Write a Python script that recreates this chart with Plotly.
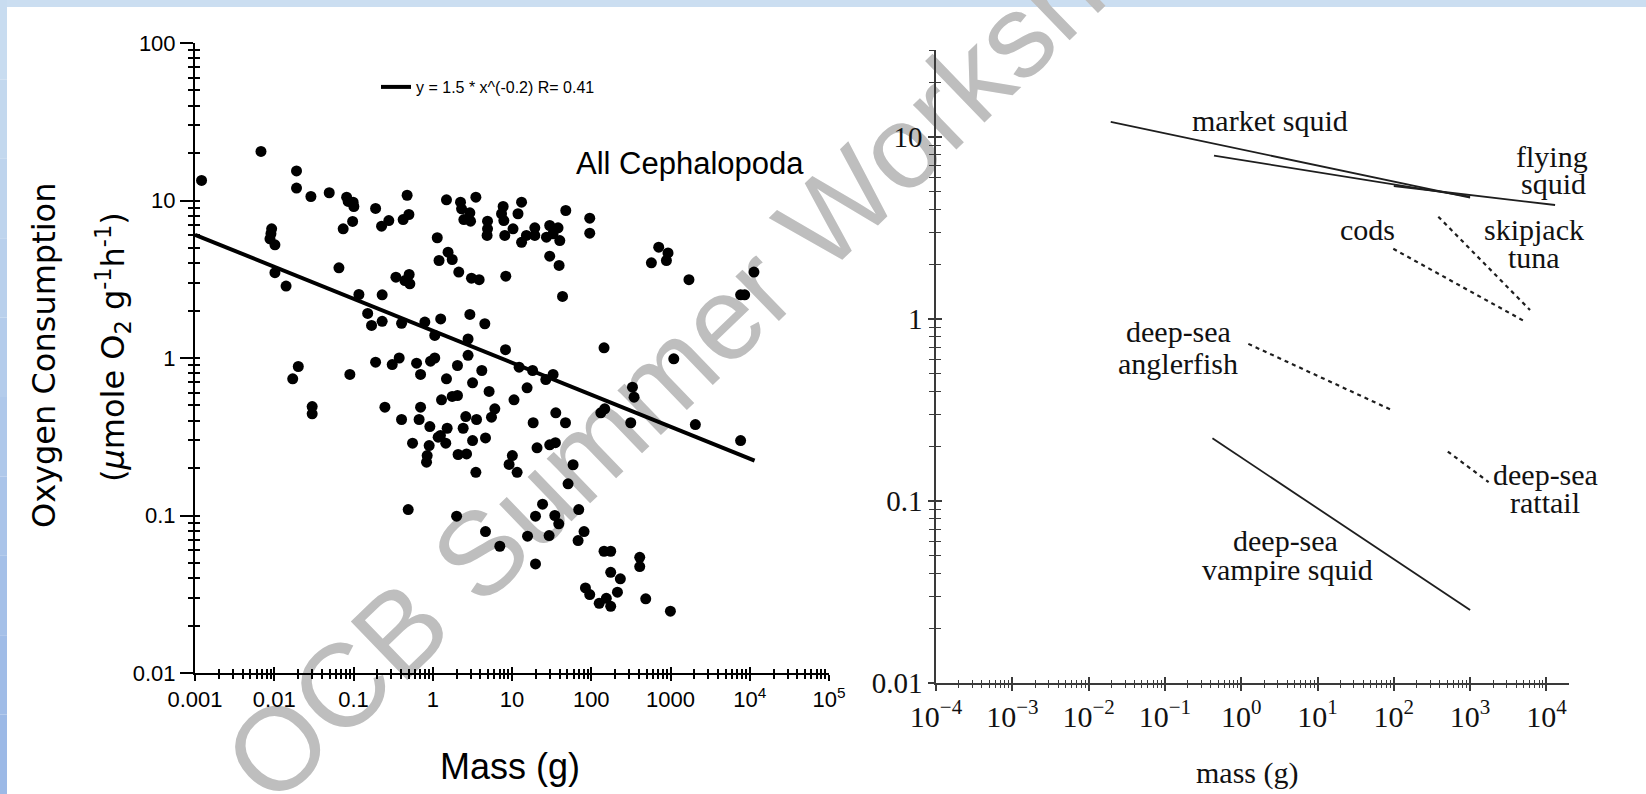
import math
import plotly.graph_objects as go

W, H = 1646, 794

# ---------------- Left panel: all Cephalopoda ----------------
mass_g = [
    0.00121, 0.0068, 0.0191, 0.0191, 0.029, 0.0494, 0.0819, 0.0857, 0.099, 0.101,
    0.0975, 0.0741, 0.190, 0.279, 0.226, 0.475, 0.500, 0.423, 1.49, 2.24,
    2.31, 2.94, 2.47, 3.0, 3.5, 4.91, 4.91, 4.85, 0.00927, 0.00908,
    0.00883, 0.0102, 0.0102, 0.0141, 0.0655, 0.117, 0.230, 0.343, 0.504, 0.445,
    0.514, 1.14, 1.56, 1.20, 1.76, 2.13, 3.08, 3.85,
    7.73, 7.38, 7.89, 13.2, 11.9, 10.3, 8.11, 13.2, 15.2, 19.4,
    19.4, 29.9, 38.1, 27.2, 33.0, 40.1, 47.7, 95.7, 95.7, 29.9,
    39.3, 8.35, 43.4, 710, 930, 574, 888, 1710, 11300, 7670, 8630,
    0.151, 0.169, 0.230, 0.404, 0.795, 1.06, 1.26, 2.94, 4.54, 2.79,
    2.79, 0.0201, 0.0171, 0.090, 0.0301, 0.0301, 0.190, 0.308, 0.377, 0.625,
    0.702, 0.938, 1.06, 2.05, 1.49, 3.18, 4.16, 5.14, 1.29, 1.76,
    2.05, 0.249, 0.702, 0.404, 0.673, 0.919, 1.52, 1.25, 1.46, 2.42,
    2.61, 3.57, 3.18, 4.63, 6.07, 5.51, 0.556, 0.901, 0.850, 0.835,
    2.09, 2.67, 3.50, 1.17,
    8.28, 12.3, 18.2, 26.7, 33.0, 145, 1100, 331, 347, 15.5,
    10.6, 18.5, 35.7, 47.3, 132, 148, 315, 2060, 7670, 20.7,
    29.9, 35.3, 10.1, 9.19, 11.6, 59.0, 51.0,
    0.490, 2.0, 4.63, 7.02,
    24.3, 19.8, 34.7, 38.9, 69.5, 81.1, 68.2, 15.7, 29.4, 19.8,
    145, 176, 409, 409, 176, 233, 84.5, 95.7, 214, 155,
    126, 176, 487, 997,
]
o2_rate = [
    13.4, 20.5, 15.4, 12.0, 10.6, 11.2, 10.5, 9.86, 9.76, 9.16,
    7.36, 6.61, 8.90, 7.46, 6.87, 10.8, 8.15, 7.57, 10.1, 9.76,
    8.86, 8.35, 7.57, 7.39, 10.5, 7.39, 6.61, 6.0, 6.61, 6.15,
    5.71, 5.23, 3.48, 2.86, 3.74, 2.53, 2.52, 3.26, 3.39, 3.10,
    2.96, 5.80, 4.70, 4.16, 4.22, 3.51, 3.21, 3.14,
    9.16, 8.24, 7.46, 9.76, 8.24, 6.61, 6.0, 5.43, 6.0, 6.71,
    6.0, 6.94, 6.71, 5.85, 6.15, 5.57, 8.64, 7.72, 6.20, 4.43,
    3.87, 3.31, 2.46, 5.05, 4.65, 4.02, 4.16, 3.14, 3.51, 2.52, 2.52,
    1.92, 1.61, 1.71, 1.66, 1.69, 1.39, 1.77, 1.89, 1.65, 1.32,
    1.04, 0.883, 0.738, 0.786, 0.492, 0.442, 0.940, 0.909, 1.0, 0.927,
    0.786, 0.954, 1.0, 0.896, 0.738, 0.696, 0.833, 0.613, 0.543, 0.570,
    0.578, 0.487, 0.487, 0.407, 0.407, 0.367, 0.358, 0.322, 0.288, 0.358,
    0.425, 0.407, 0.299, 0.311, 0.476, 0.421, 0.288, 0.278, 0.240, 0.218,
    0.244, 0.246, 0.188, 0.314,
    1.13, 0.874, 0.833, 0.730, 0.786, 1.16, 0.988, 0.653, 0.564, 0.647,
    0.543, 0.388, 0.449, 0.388, 0.449, 0.476, 0.388, 0.378, 0.299, 0.269,
    0.281, 0.290, 0.240, 0.211, 0.188, 0.210, 0.159,
    0.109, 0.099, 0.079, 0.0638,
    0.118, 0.099, 0.100, 0.0886, 0.109, 0.079, 0.0693, 0.0739, 0.0746, 0.0493,
    0.0593, 0.0593, 0.0543, 0.0474, 0.0436, 0.0396, 0.0347, 0.0315, 0.0326, 0.0298,
    0.0277, 0.0265, 0.0296, 0.0247,
]
fit_mass = [0.001, 11500]
fit_rate = [6.06, 0.223]
fit_label = "y = 1.5 * x^(-0.2) R= 0.41"

left_x_tickvals = [1e-3, 1e-2, 1e-1, 1, 10, 100, 1000, 1e4, 1e5]
left_x_ticktext = ["0.001", "0.01", "0.1", "1", "10", "100", "1000", "10<sup>4</sup>", "10<sup>5</sup>"]
left_y_tickvals = [0.01, 0.1, 1, 10, 100]
left_y_ticktext = ["0.01", "0.1", "1", "10", "100"]

# ---------------- Right panel: species scaling lines ----------------
market_squid_mass = [0.0195, 1000]
market_squid_rate = [12.1, 4.64]
squid2_mass = [0.44, 1000]
squid2_rate = [7.9, 4.7]
flying_squid_mass = [100, 13000]
flying_squid_rate = [5.38, 4.23]
cods_mass = [98.5, 4980]
cods_rate = [2.43, 0.98]
skipjack_mass = [383, 6100]
skipjack_rate = [3.65, 1.12]
anglerfish_mass = [1.24, 98.5]
anglerfish_rate = [0.73, 0.313]
vampire_mass = [0.42, 1000]
vampire_rate = [0.221, 0.0252]
rattail_mass = [510, 1750]
rattail_rate = [0.187, 0.127]

right_x_tickvals = [1e-4, 1e-3, 1e-2, 1e-1, 1, 10, 100, 1000, 1e4]
right_x_ticktext = ["10<sup>\u22124</sup>", "10<sup>\u22123</sup>", "10<sup>\u22122</sup>",
                    "10<sup>\u22121</sup>", "10<sup>0</sup>", "10<sup>1</sup>",
                    "10<sup>2</sup>", "10<sup>3</sup>", "10<sup>4</sup>"]
right_y_tickvals = [0.01, 0.1, 1, 10]
right_y_ticktext = ["0.01", "0.1", "1", "10"]


def px(x):
    return x / W


def py(y):
    return 1 - y / H


def minor_vals(d0, d1):
    return [m * 10.0 ** d for d in range(d0, d1 + 1) for m in range(2, 10)]


SANS = "Liberation Sans, Arial, sans-serif"
SERIF = "Liberation Serif, Times New Roman, serif"
WIDE = "DejaVu Sans, Verdana, sans-serif"

fig = go.Figure()

# left panel traces
fig.add_trace(go.Scatter(x=mass_g, y=o2_rate, mode="markers", xaxis="x", yaxis="y",
                         marker=dict(size=11, color="black"), showlegend=False))
fig.add_trace(go.Scatter(x=fit_mass, y=fit_rate, mode="lines", xaxis="x", yaxis="y",
                         line=dict(color="black", width=4), name=fit_label, showlegend=True))

# right panel traces
solid = dict(color="#1e1e1e", width=1.8)
dotted = dict(color="#1e1e1e", width=2.2, dash="4px,4px")
for xs, ys, ln in [
    (market_squid_mass, market_squid_rate, solid),
    (squid2_mass, squid2_rate, solid),
    (flying_squid_mass, flying_squid_rate, solid),
    (cods_mass, cods_rate, dotted),
    (skipjack_mass, skipjack_rate, dotted),
    (anglerfish_mass, anglerfish_rate, dotted),
    (vampire_mass, vampire_rate, solid),
    (rattail_mass, rattail_rate, dotted),
]:
    fig.add_trace(go.Scatter(x=xs, y=ys, mode="lines", xaxis="x2", yaxis="y2",
                             line=ln, showlegend=False, hoverinfo="skip"))

# empty traces to instantiate the overlay (inside-tick) axes
for xa, ya in [("x3", "y"), ("x", "y3"), ("x4", "y2"), ("x2", "y4")]:
    fig.add_trace(go.Scatter(x=[], y=[], xaxis=xa, yaxis=ya, showlegend=False, hoverinfo="skip"))

L_xdom = [px(195), px(829)]
L_ydom = [py(673), py(43)]
R_xdom = [px(936), px(936 + 8.3 * 76.3)]
R_ydom = [py(683), py(137 - math.log10(3) * 182)]
L_xr = [-3, 5]
L_yr = [-2, 2]
R_xr = [-4, 4.3]
R_yr = [-2, math.log10(30)]

base = dict(type="log", showgrid=False, zeroline=False, tickmode="array", automargin=False)

fig.update_layout(
    template="none",
    width=W, height=H, autosize=False, margin=dict(l=0, r=0, t=0, b=0, pad=0, autoexpand=False),
    paper_bgcolor="white", plot_bgcolor="rgba(0,0,0,0)",
    showlegend=True,
    legend=dict(x=px(376), y=py(87), xanchor="left", yanchor="middle",
                bgcolor="rgba(0,0,0,0)", font=dict(family=SANS, size=16, color="black")),
    xaxis=dict(**base, domain=L_xdom, range=L_xr, anchor="y",
               tickvals=left_x_tickvals, ticktext=left_x_ticktext,
               showline=True, linecolor="black", linewidth=2,
               ticks="outside", ticklen=6, tickwidth=2, tickcolor="black",
               tickfont=dict(family=SANS, size=22, color="black"),
               minor=dict(tickvals=minor_vals(-3, 4), ticks="outside", ticklen=4,
                          tickwidth=1.5, tickcolor="black")),
    yaxis=dict(**base, domain=L_ydom, range=L_yr, anchor="x",
               tickvals=left_y_tickvals, ticktext=left_y_ticktext,
               showline=True, linecolor="black", linewidth=2,
               ticks="outside", ticklen=13, tickwidth=2, tickcolor="black",
               tickfont=dict(family=SANS, size=22, color="black"),
               minor=dict(tickvals=minor_vals(-2, 1), ticks="outside", ticklen=5,
                          tickwidth=1.5, tickcolor="black")),
    xaxis3=dict(**base, domain=L_xdom, range=L_xr, anchor="y", overlaying="x",
                tickvals=left_x_tickvals, showticklabels=False, showline=False,
                ticks="inside", ticklen=6, tickwidth=2, tickcolor="black",
                minor=dict(tickvals=minor_vals(-3, 4), ticks="inside", ticklen=4,
                           tickwidth=1.5, tickcolor="black")),
    yaxis3=dict(**base, domain=L_ydom, range=L_yr, anchor="x", overlaying="y",
                tickvals=left_y_tickvals, showticklabels=False, showline=False,
                ticks="inside", ticklen=5, tickwidth=2, tickcolor="black",
                minor=dict(tickvals=minor_vals(-2, 1), ticks="inside", ticklen=5,
                           tickwidth=1.5, tickcolor="black")),
    xaxis2=dict(**base, domain=R_xdom, range=R_xr, anchor="y2",
                tickvals=right_x_tickvals, ticktext=right_x_ticktext,
                showline=True, linecolor="#3a3a3a", linewidth=2,
                ticks="outside", ticklen=6, tickwidth=1.5, tickcolor="#3a3a3a",
                tickfont=dict(family=SERIF, size=30, color="#111"),
                minor=dict(tickvals=minor_vals(-4, 3), ticks="outside", ticklen=3,
                           tickwidth=1.2, tickcolor="#3a3a3a")),
    yaxis2=dict(**base, domain=R_ydom, range=R_yr, anchor="x2",
                tickvals=right_y_tickvals, ticktext=right_y_ticktext,
                showline=True, linecolor="#3a3a3a", linewidth=1.5,
                ticks="outside", ticklen=6, tickwidth=1.5, tickcolor="#3a3a3a",
                tickfont=dict(family=SERIF, size=29, color="#111"),
                minor=dict(tickvals=minor_vals(-2, 1), ticks="outside", ticklen=5,
                           tickwidth=1.2, tickcolor="#3a3a3a")),
    xaxis4=dict(**base, domain=R_xdom, range=R_xr, anchor="y2", overlaying="x2",
                tickvals=right_x_tickvals, showticklabels=False, showline=False,
                ticks="inside", ticklen=6, tickwidth=1.5, tickcolor="#3a3a3a",
                minor=dict(tickvals=minor_vals(-4, 3), ticks="inside", ticklen=3,
                           tickwidth=1.2, tickcolor="#3a3a3a")),
    yaxis4=dict(**base, domain=R_ydom, range=R_yr, anchor="x2", overlaying="y2",
                tickvals=right_y_tickvals, showticklabels=False, showline=False,
                ticks="inside", ticklen=6, tickwidth=1.5, tickcolor="#3a3a3a",
                minor=dict(tickvals=minor_vals(-2, 1), ticks="inside", ticklen=5,
                           tickwidth=1.2, tickcolor="#3a3a3a")),
)

# ---------------- decorations (below everything) ----------------
shapes = []
# slide border: top strip and left gradient strip
shapes.append(dict(type="rect", xref="paper", yref="paper", x0=0, x1=1, y0=py(7), y1=1,
                   fillcolor="#cbdef1", line=dict(width=0), layer="below"))
n_seg = 10
for i in range(n_seg):
    t = i / (n_seg - 1)
    r = int(0xc8 + (0x9c - 0xc8) * t)
    g = int(0xdc + (0xb9 - 0xdc) * t)
    b = int(0xf0 + (0xe6 - 0xf0) * t)
    shapes.append(dict(type="rect", xref="paper", yref="paper", x0=0, x1=px(7),
                       y0=py(H * (i + 1) / n_seg), y1=py(H * i / n_seg),
                       fillcolor=f"rgb({r},{g},{b})", line=dict(width=0), layer="below"))
# watermark text along a diagonal
cx, cy, ang_deg, half = 703, 322, 44, 330
ang = math.radians(ang_deg)
dx, dy = half * math.cos(ang), half * math.sin(ang)
shapes.append(dict(type="line", xref="paper", yref="paper",
                   x0=px(cx - dx), y0=py(cy + dy), x1=px(cx + dx), y1=py(cy - dy),
                   line=dict(color="rgba(0,0,0,0)", width=0), layer="below",
                   label=dict(text="OCB Summer Workshop", textposition="middle",
                              textangle=-ang_deg, yanchor="middle",
                              font=dict(family=SANS, size=118, color="#bebebe"))))
fig.update_layout(shapes=shapes)

# ---------------- text ----------------
ann = []


def add_text(text, x, y, size, family, angle=0, color="black"):
    ann.append(dict(text=text, x=px(x), y=py(y), xref="paper", yref="paper",
                    xanchor="center", yanchor="middle", showarrow=False, textangle=angle,
                    font=dict(family=family, size=size, color=color)))


add_text("All Cephalopoda", 690, 163, 31, SANS)
add_text("Mass (g)", 510, 766, 36, SANS)
add_text("Oxygen Consumption", 44, 356, 32, WIDE, angle=-90)
add_text("(<i>\u03bc</i>mole O<sub>2</sub> g<sup>-1</sup>h<sup>-1</sup>)", 113, 347, 32,
         WIDE, angle=-90)
add_text("mass (g)", 1247, 773, 30, SERIF, color="#111")

serif_labels = [
    ("market squid", 1270, 120),
    ("flying", 1552, 157),
    ("squid", 1553, 183),
    ("cods", 1367, 229),
    ("skipjack", 1534, 230),
    ("tuna", 1534, 258),
    ("deep-sea", 1178, 331),
    ("anglerfish", 1178, 364),
    ("deep-sea", 1545, 474),
    ("rattail", 1545, 503),
    ("deep-sea", 1285, 540),
    ("vampire squid", 1287, 569),
]
for t, x, y in serif_labels:
    add_text(t, x, y, 30, SERIF, color="#111")

fig.update_layout(annotations=ann)

fig.write_html("out.html")
